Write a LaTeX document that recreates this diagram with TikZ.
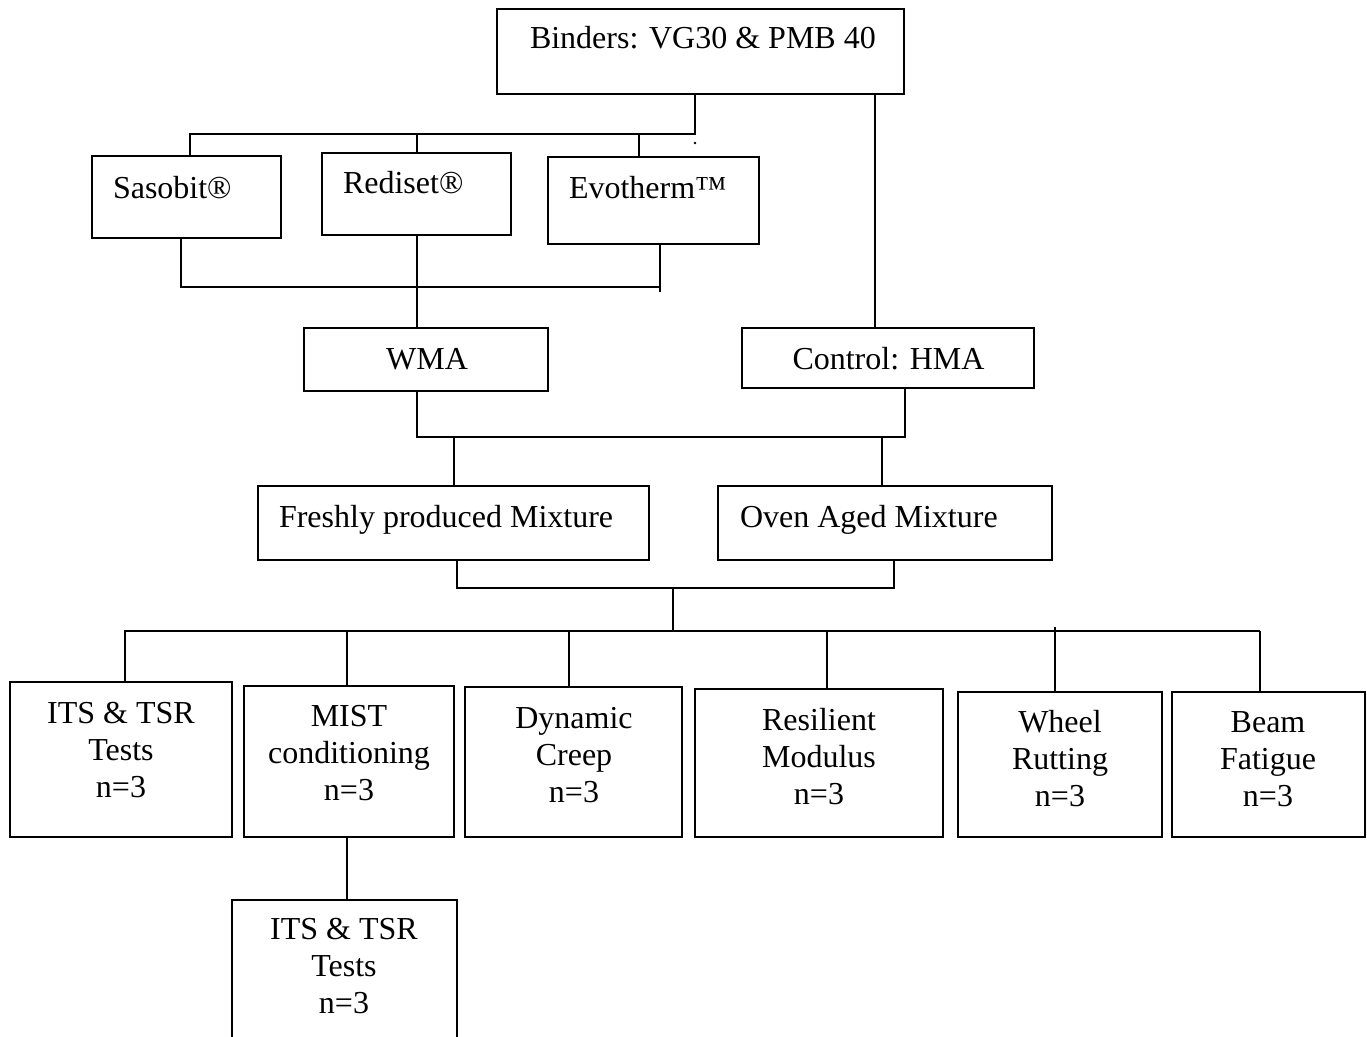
\documentclass[tikz,border=0pt]{standalone}
\usepackage{fontspec}
\setmainfont{Liberation Serif}
\begin{document}
\begin{tikzpicture}[x=1pt,y=-1pt,
  box/.style={draw,line width=1.6pt,inner sep=0pt,outer sep=0pt},
  lbl/.style={inner sep=0pt,outer sep=0pt,align=center,font=\fontsize{32}{37}\selectfont},
  conn/.style={line width=1.5pt}]
\useasboundingbox (0,0) rectangle (1367,1036);
\clip (0,0) rectangle (1367,1036);
% boxes
\node[box,minimum width=407pt,minimum height=85pt] (bind) at (700.5,51.5) {};
\node[box,minimum width=189pt,minimum height=82pt] (sas) at (186.5,197) {};
\node[box,minimum width=189pt,minimum height=82pt] (red) at (416.5,194) {};
\node[box,minimum width=211pt,minimum height=87pt] (evo) at (653.5,200.5) {};
\node[box,minimum width=244pt,minimum height=63pt] (wma) at (426,359.5) {};
\node[box,minimum width=292pt,minimum height=60pt] (hma) at (888,358) {};
\node[box,minimum width=391pt,minimum height=74pt] (fresh) at (453.5,523) {};
\node[box,minimum width=334pt,minimum height=74pt] (oven) at (885,523) {};
\node[box,minimum width=222pt,minimum height=155pt] (its1) at (121,759.5) {};
\node[box,minimum width=210pt,minimum height=151pt] (mist) at (349,761.5) {};
\node[box,minimum width=217pt,minimum height=150pt] (dyn) at (573.5,762) {};
\node[box,minimum width=248pt,minimum height=148pt] (res) at (819,763) {};
\node[box,minimum width=204pt,minimum height=145pt] (whl) at (1060,764.5) {};
\node[box,minimum width=193pt,minimum height=145pt] (beam) at (1268.5,764.5) {};
\node[box,minimum width=225pt,minimum height=160pt] (its2) at (344.5,980) {};
% labels (multi-line labels are anchored at the baseline of their last line)
\node[lbl,anchor=base west] (tbind) at (530,48) {Binders: VG30 \& PMB 40};
\node[lbl,anchor=base west] (tsas) at (113,198) {Sasobit®};
\node[lbl,anchor=base west] (tred) at (343,193) {Rediset®};
\node[lbl,anchor=base west] (tevo) at (569,198) {Evotherm™};
\node[lbl,anchor=base] (twma) at (427,369) {WMA};
\node[lbl,anchor=base] (thma) at (888.5,369) {Control: HMA};
\node[lbl,anchor=base west] (tfresh) at (279,527) {Freshly produced Mixture};
\node[lbl,anchor=base west] (toven) at (740,527) {Oven Aged Mixture};
\node[lbl,anchor=base] (tits1) at (121,797) {ITS \& TSR\\Tests\\n=3};
\node[lbl,anchor=base] (tmist) at (349,800) {MIST\\conditioning\\n=3};
\node[lbl,anchor=base] (tdyn) at (574,802) {Dynamic\\Creep\\n=3};
\node[lbl,anchor=base] (tres) at (819,804) {Resilient\\Modulus\\n=3};
\node[lbl,anchor=base] (twhl) at (1060,806) {Wheel\\Rutting\\n=3};
\node[lbl,anchor=base] (tbeam) at (1268,806) {Beam\\Fatigue\\n=3};
\node[lbl,anchor=base] (tits2) at (344,1013) {ITS \& TSR\\Tests\\n=3};
% junction coordinates
\coordinate (j1) at (695,134);
\coordinate (j2) at (190,134);
\coordinate (j3) at (417,134);
\coordinate (j4) at (639,134);
\coordinate (k1) at (181,287);
\coordinate (k2) at (660,287);
\coordinate (k2e) at (660,292);
\coordinate (k3) at (417,287);
\coordinate (r1) at (875,200);
\coordinate (m1) at (417,437);
\coordinate (m2) at (905,437);
\coordinate (m3) at (454,437);
\coordinate (m4) at (882,437);
\coordinate (n1) at (457,588);
\coordinate (n2) at (894,588);
\coordinate (n3) at (673,588);
\coordinate (n4) at (673,631);
\coordinate (h1) at (124,631);
\coordinate (h2) at (1260,631);
\coordinate (d1) at (125,631);
\coordinate (d2) at (347,631);
\coordinate (d3) at (569,631);
\coordinate (d4) at (827,631);
\coordinate (d5) at (1055,627);
\coordinate (d6) at (1260,631);
% connectors
\draw[conn] (j1 |- bind.south) -- (j1) -- (j2) -- (j2 |- sas.north);
\draw[conn] (j3) -- (j3 |- red.north);
\draw[conn] (j4) -- (j4 |- evo.north);
\fill (695,143) circle (1.3);
\draw[conn] (k1 |- sas.south) -- (k1) -- (k2);
\draw[conn] (k2 |- evo.south) -- (k2e);
\draw[conn] (k3 |- red.south) -- (k3 |- wma.north);
\draw[conn] (r1 |- bind.south) -- (r1 |- hma.north);
\draw[conn] (m1 |- wma.south) -- (m1) -- (m2) -- (m2 |- hma.south);
\draw[conn] (m3) -- (m3 |- fresh.north);
\draw[conn] (m4) -- (m4 |- oven.north);
\draw[conn] (n1 |- fresh.south) -- (n1) -- (n2) -- (n2 |- oven.south);
\draw[conn] (n3) -- (n4);
\draw[conn] (h1) -- (h2);
\draw[conn] (d1) -- (d1 |- its1.north);
\draw[conn] (d2) -- (d2 |- mist.north);
\draw[conn] (d3) -- (d3 |- dyn.north);
\draw[conn] (d4) -- (d4 |- res.north);
\draw[conn] (d5) -- (d5 |- whl.north);
\draw[conn] (d6) -- (d6 |- beam.north);
\draw[conn] (d2 |- mist.south) -- (d2 |- its2.north);
\end{tikzpicture}
\end{document}
